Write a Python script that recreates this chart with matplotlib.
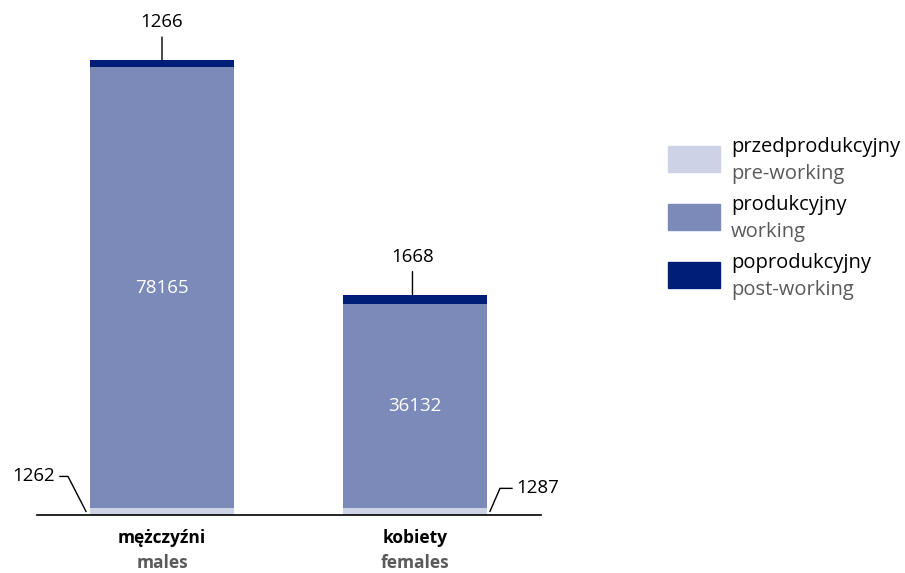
import numpy as np
import matplotlib
matplotlib.use("Agg")
import matplotlib.pyplot as plt
from matplotlib.patches import Rectangle

plt.rcParams['font.family'] = ['Open Sans', 'DejaVu Sans']

# population by age group
groups_pl = ['mężczyźni', 'kobiety']
groups_en = ['males', 'females']
pre_working = [1262, 1287]
working = [78165, 36132]
post_working = [1266, 1668]

series_pl = ['przedprodukcyjny', 'produkcyjny', 'poprodukcyjny']
series_en = ['pre-working', 'working', 'post-working']
colors = ['#cdd2e6', '#7b8ab9', '#001d78']

fig = plt.figure(figsize=(9.05, 5.73), dpi=100)
ax = fig.add_axes([37 / 905, 58 / 573, 504 / 905, 515 / 573])

x = np.arange(len(groups_pl))
w = 0.569
pre = np.array(pre_working)
wrk = np.array(working)
post = np.array(post_working)

ax.bar(x, pre, w, color=colors[0])
ax.bar(x, wrk, w, bottom=pre, color=colors[1])
ax.bar(x, post, w, bottom=pre + wrk, color=colors[2])

ax.set_xlim(-0.494, 1.498)
ax.set_ylim(0, 91335)
for s in ['top', 'right', 'left']:
    ax.spines[s].set_visible(False)
ax.spines['bottom'].set_linewidth(1.2)
ax.set_yticks([])
ax.set_xticks([])

fs = 13.5

# values inside the working segment
for i in range(len(x)):
    ax.text(x[i], pre[i] + wrk[i] / 2, str(wrk[i]), color='white',
            ha='center', va='center', fontsize=fs)

# post-working labels above the bars
for i in range(len(x)):
    top = pre[i] + wrk[i] + post[i]
    ax.annotate('', xy=(x[i] - 0.01 * i, top), xytext=(0, 23),
                textcoords='offset pixels', ha='center',
                arrowprops=dict(arrowstyle='-', color='black', lw=1,
                                shrinkA=0, shrinkB=0))
    ax.annotate(str(post[i]), xy=(x[i] - 0.01 * i, top), xytext=(0, 29),
                textcoords='offset pixels', ha='center', va='bottom',
                fontsize=fs)

# pre-working labels with bent leader lines
t = ax.transData
inv = t.inverted()

y0 = pre[0] / 2
left = x[0] - w / 2
px0, py0 = t.transform((left, y0))
pts = [(-4, 0), (-22, 35), (-30, 35)]
d = inv.transform(np.array([(px0 + dx, py0 + dy) for dx, dy in pts]))
ax.plot(d[:, 0], d[:, 1], color='black', lw=1, clip_on=False)
ax.annotate(str(pre[0]), xy=(left, y0), xytext=(-35, 35),
            textcoords='offset pixels', ha='right', va='center', fontsize=fs)

y1 = pre[1] / 2
right = x[1] + w / 2
px1, py1 = t.transform((right, y1))
pts = [(3, 0), (13, 23), (25, 23)]
d = inv.transform(np.array([(px1 + dx, py1 + dy) for dx, dy in pts]))
ax.plot(d[:, 0], d[:, 1], color='black', lw=1, clip_on=False)
ax.annotate(str(pre[1]), xy=(right, y1), xytext=(29, 23),
            textcoords='offset pixels', ha='left', va='center', fontsize=fs)

# category labels under the axis
for i in range(len(x)):
    ax.annotate(groups_pl[i], xy=(x[i], 0), xytext=(0, -23),
                textcoords='offset pixels', ha='center', va='center',
                fontsize=12.5, fontweight='bold', color='black')
    ax.annotate(groups_en[i], xy=(x[i], 0), xytext=(0, -48),
                textcoords='offset pixels', ha='center', va='center',
                fontsize=12.5, fontweight='bold', color='#5a5a5a')

# legend
for k in range(3):
    ytop = 146 + k * 58
    fig.patches.append(Rectangle((668 / 905, 1 - (ytop + 26) / 573),
                                 52 / 905, 26 / 573, color=colors[k],
                                 transform=fig.transFigure))
    fig.text(731 / 905, 1 - (ytop + 1) / 573, series_pl[k], fontsize=14.5,
             va='center', color='black')
    fig.text(731 / 905, 1 - (ytop + 28) / 573, series_en[k], fontsize=14.5,
             va='center', color='#5a5a5a')

fig.savefig('out.png', dpi=100)
